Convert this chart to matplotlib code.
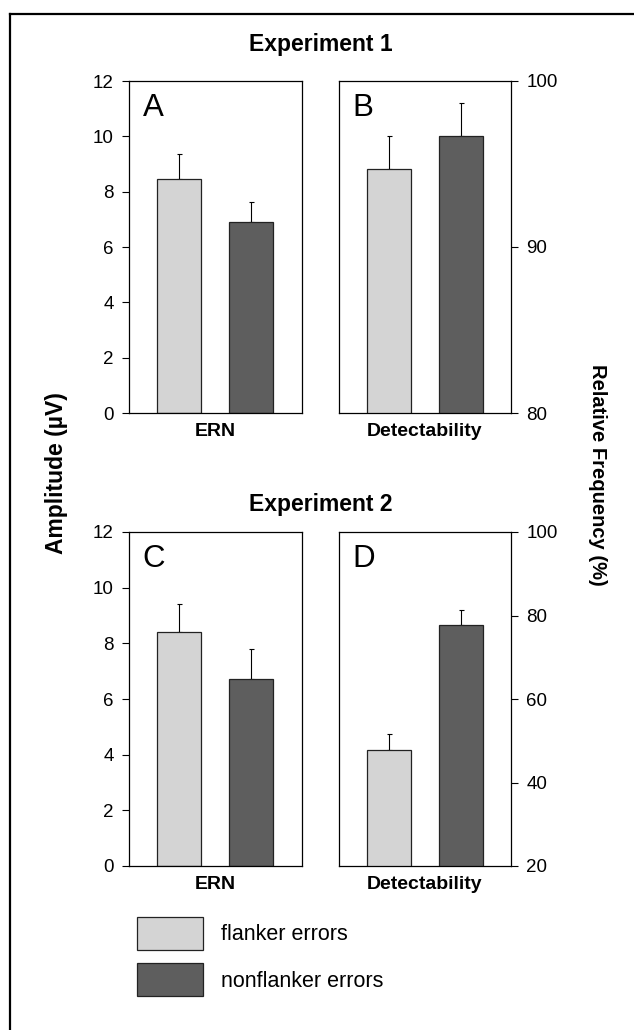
import numpy as np
import matplotlib
matplotlib.use('Agg')
import matplotlib.pyplot as plt
from matplotlib.lines import Line2D

plt.rcParams['font.family'] = ['Liberation Sans', 'DejaVu Sans']

# values
conditions = ['flanker errors', 'nonflanker errors']
colors = ['#d4d4d4', '#5e5e5e']

exp1_ern = [8.47, 6.89]
exp1_ern_err = [0.89, 0.75]
exp1_det = [94.7, 96.7]
exp1_det_err = [2.0, 2.0]

exp2_ern = [8.42, 6.72]
exp2_ern_err = [0.99, 1.08]
exp2_det = [47.8, 77.8]
exp2_det_err = [3.7, 3.4]

ern_ticks = [0, 2, 4, 6, 8, 10, 12]
det1_ticks = [80, 90, 100]
det2_ticks = [20, 40, 60, 80, 100]

W, H = 634, 1030
fig = plt.figure(figsize=(W / 100, H / 100), dpi=100)


def px_axes(x0, y0, x1, y1):
    return fig.add_axes([x0 / W, 1 - y1 / H, (x1 - x0) / W, (y1 - y0) / H])


def bar_panel(ax, vals, errs, ticks, letter, xlabel, right=False):
    x = np.arange(len(vals))
    bars = ax.bar(x, vals, width=0.61, color=colors, edgecolor='#222222',
                  linewidth=0.9, zorder=2)
    ax.errorbar(x, vals, yerr=[np.zeros(len(errs)), errs], fmt='none',
                ecolor='black', elinewidth=0.8, capsize=1.8, capthick=0.8,
                zorder=1)
    ax.set_xlim(-0.69, 1.70)
    ax.set_ylim(ticks[0], ticks[-1])
    ax.set_xticks([])
    ax.set_yticks(ticks)
    ax.tick_params(axis='y', direction='out', length=5, width=0.8,
                   labelsize=13.5, pad=6)
    if right:
        ax.yaxis.tick_right()
    for s in ax.spines.values():
        s.set_linewidth(0.9)
    ax.text(0.08, 0.965, letter, transform=ax.transAxes, fontsize=22.5,
            va='top', ha='left')
    ax.set_xlabel(xlabel, fontsize=14, fontweight='bold', labelpad=7)
    return bars


axA = px_axes(129, 81, 302, 413)
bars = bar_panel(axA, exp1_ern, exp1_ern_err, ern_ticks, 'A', 'ERN')
axB = px_axes(339, 81, 511, 413)
bar_panel(axB, exp1_det, exp1_det_err, det1_ticks, 'B', 'Detectability', right=True)
axC = px_axes(129, 532, 302, 866)
bar_panel(axC, exp2_ern, exp2_ern_err, ern_ticks, 'C', 'ERN')
axD = px_axes(339, 532, 511, 866)
bar_panel(axD, exp2_det, exp2_det_err, det2_ticks, 'D', 'Detectability', right=True)

fig.text(321 / W, 1 - 45 / H, 'Experiment 1', fontsize=16.5, fontweight='bold',
         ha='center', va='center')
fig.text(321 / W, 1 - 504 / H, 'Experiment 2', fontsize=16.5, fontweight='bold',
         ha='center', va='center')
fig.text(57 / W, 1 - 473 / H, 'Amplitude (µV)', fontsize=16.5, fontweight='bold',
         rotation=90, ha='center', va='center')
fig.text(597 / W, 1 - 475 / H, 'Relative Frequency (%)', fontsize=14.5,
         fontweight='bold', rotation=-90, ha='center', va='center')

fig.legend(bars, conditions, loc='upper left',
           bbox_to_anchor=(137 / W, 1 - 917 / H), frameon=False,
           fontsize=15.5, handlelength=3.07, handleheight=2.0,
           handletextpad=0.85, labelspacing=0.6, borderpad=0,
           borderaxespad=0)

# partial frame around the figure
fig.add_artist(Line2D([10 / W, 10 / W], [0, 1 - 14 / H], color='black',
                      linewidth=1.6, transform=fig.transFigure))
fig.add_artist(Line2D([10 / W, 1], [1 - 14 / H, 1 - 14 / H], color='black',
                      linewidth=1.6, transform=fig.transFigure))

fig.savefig('out.png', dpi=100)
